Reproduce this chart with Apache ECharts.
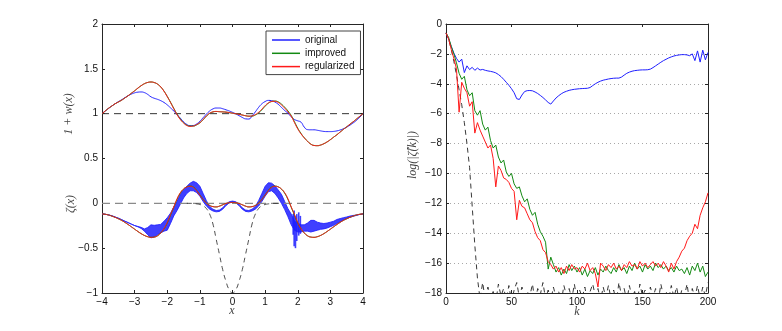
<!DOCTYPE html>
<html>
<head>
<meta charset="utf-8">
<script src="https://cdn.jsdelivr.net/npm/echarts@6.0.0/dist/echarts.min.js"></script>
<style>
html, body { margin: 0; padding: 0; background: #fff; }
#main { width: 782px; height: 331px; }
</style>
</head>
<body>
<div id="main"></div>
<script>
// left panel: sample positions
var xs = [-4,-3.9,-3.8,-3.7,-3.6,-3.5,-3.4,-3.3,-3.2,-3.1,
  -3,-2.9,-2.8,-2.7,-2.6,-2.5,-2.4,-2.3,-2.2,-2.1,
  -2,-1.9,-1.8,-1.7,-1.6,-1.5,-1.4,-1.3,-1.2,-1.1,
  -1,-0.9,-0.8,-0.7,-0.6,-0.5,-0.4,-0.3,-0.2,-0.1,
  0,0.1,0.2,0.3,0.4,0.5,0.6,0.7,0.8,0.9,
  1,1.1,1.2,1.3,1.4,1.5,1.6,1.7,1.8,1.9,
  2,2.1,2.2,2.3,2.4,2.5,2.6,2.7,2.8,2.9,
  3,3.1,3.2,3.3,3.4,3.5,3.6,3.7,3.8,3.9,
  4];

// 1 + w(x)
var wOriginal = [1.000,1.030,1.058,1.085,1.110,1.133,1.155,1.178,1.200,1.218,
  1.232,1.240,1.242,1.235,1.215,1.188,1.172,1.160,1.145,1.125,
  1.098,1.065,1.030,0.990,0.950,0.910,0.880,0.866,0.868,0.885,
  0.915,0.955,0.995,1.030,1.053,1.063,1.063,1.055,1.043,1.030,
  1.015,0.998,0.978,0.958,0.942,0.940,0.975,1.020,1.070,1.110,
  1.135,1.148,1.145,1.130,1.105,1.070,1.035,1.005,0.965,0.935,
  0.920,0.905,0.850,0.822,0.820,0.820,0.815,0.808,0.802,0.800,
  0.800,0.802,0.808,0.818,0.832,0.850,0.872,0.897,0.925,0.960,
  1.000];
var wImproved = [1.000,1.030,1.060,1.085,1.110,1.130,1.150,1.175,1.200,1.228,
  1.255,1.285,1.312,1.334,1.348,1.353,1.347,1.330,1.298,1.252,
  1.193,1.128,1.060,0.995,0.940,0.900,0.872,0.862,0.862,0.875,
  0.898,0.932,0.972,1.003,1.019,1.024,1.022,1.020,1.017,1.012,
  1.005,1.000,0.993,0.985,0.977,0.972,0.973,0.985,1.008,1.043,
  1.083,1.117,1.136,1.141,1.132,1.107,1.072,1.030,0.980,0.910,
  0.838,0.780,0.732,0.692,0.661,0.646,0.643,0.650,0.665,0.685,
  0.710,0.738,0.765,0.795,0.825,0.853,0.882,0.910,0.940,0.970,
  1.000];
var wRegularized = [1.000,1.030,1.060,1.085,1.110,1.130,1.150,1.175,1.200,1.228,
  1.255,1.285,1.312,1.334,1.348,1.353,1.347,1.330,1.298,1.250,
  1.190,1.125,1.055,0.990,0.935,0.895,0.868,0.858,0.862,0.878,
  0.900,0.935,0.975,1.005,1.020,1.025,1.022,1.020,1.017,1.012,
  1.005,1.000,0.993,0.985,0.977,0.972,0.975,0.990,1.015,1.050,
  1.090,1.120,1.135,1.138,1.125,1.098,1.062,1.020,0.972,0.900,
  0.830,0.775,0.730,0.692,0.660,0.645,0.643,0.650,0.665,0.685,
  0.710,0.738,0.765,0.795,0.825,0.853,0.882,0.910,0.940,0.970,
  1.000];

// zeta(x)
var zetaInitial = [0,0,0,0,0,0,0,0,0,0,
  0,0,0,0,0,0,0,0,0,0,
  0,0,0,0,0,0,0,0,-0.002,-0.006,
  -0.013,-0.028,-0.058,-0.12,-0.23,-0.40,-0.57,-0.74,-0.87,-0.965,
  -1.0,-0.965,-0.87,-0.74,-0.57,-0.40,-0.23,-0.12,-0.058,-0.028,
  -0.013,-0.006,-0.002,0,0,0,0,0,0,0,
  0,0,0,0,0,0,0,0,0,0,
  0,0,0,0,0,0,0,0,0,0,
  0];
var zetaOriginalLo = [-0.118,-0.122,-0.129,-0.139,-0.152,-0.166,-0.182,-0.199,-0.215,-0.232,
  -0.248,-0.262,-0.280,-0.310,-0.350,-0.385,-0.375,-0.350,-0.330,-0.310,
  -0.300,-0.225,-0.140,-0.080,-0.010,0.060,0.110,0.140,0.140,0.120,
  0.080,0.020,-0.030,-0.065,-0.085,-0.095,-0.090,-0.065,-0.025,0.005,
  0.012,0.005,-0.025,-0.065,-0.090,-0.095,-0.085,-0.065,-0.030,0.020,
  0.080,0.130,0.140,0.110,0.060,0.000,-0.070,-0.150,-0.240,-0.300,
  -0.320,-0.320,-0.310,-0.310,-0.320,-0.310,-0.300,-0.290,-0.285,-0.275,
  -0.260,-0.245,-0.225,-0.205,-0.185,-0.170,-0.155,-0.145,-0.134,-0.124,
  -0.118];
var zetaOriginalHi = [-0.118,-0.122,-0.129,-0.139,-0.152,-0.166,-0.182,-0.199,-0.215,-0.232,
  -0.248,-0.258,-0.268,-0.285,-0.270,-0.240,-0.245,-0.240,-0.235,-0.200,
  -0.160,-0.110,-0.040,0.020,0.100,0.150,0.190,0.225,0.245,0.230,
  0.190,0.110,0.030,-0.035,-0.065,-0.080,-0.075,-0.050,-0.010,0.018,
  0.025,0.018,-0.010,-0.050,-0.075,-0.080,-0.065,-0.035,0.030,0.110,
  0.190,0.230,0.225,0.195,0.150,0.100,0.020,-0.060,-0.120,-0.200,
  -0.220,-0.240,-0.240,-0.220,-0.190,-0.190,-0.210,-0.220,-0.225,-0.220,
  -0.210,-0.200,-0.180,-0.170,-0.160,-0.152,-0.142,-0.135,-0.130,-0.124,
  -0.118];
// vertical spikes of the original zeta near x = 2
var spikeXs = [1.86, 1.89, 1.93, 1.97, 2.03, 2.08];
var spikeLo = [-0.35, -0.48, -0.50, -0.42, -0.36, -0.34];
var spikeHi = [-0.12, -0.08, -0.15, -0.12, -0.10, -0.14];

var zetaImproved = [-0.118,-0.122,-0.130,-0.142,-0.156,-0.172,-0.190,-0.212,-0.236,-0.262,
  -0.288,-0.314,-0.338,-0.358,-0.372,-0.379,-0.376,-0.362,-0.330,-0.285,
  -0.220,-0.132,-0.045,0.042,0.112,0.158,0.184,0.192,0.182,0.145,
  0.094,0.045,0.004,-0.023,-0.036,-0.040,-0.031,-0.016,-0.002,0.007,
  0.010,0.007,-0.002,-0.016,-0.031,-0.040,-0.036,-0.023,0.004,0.045,
  0.094,0.145,0.182,0.192,0.184,0.158,0.112,0.042,-0.045,-0.132,
  -0.220,-0.285,-0.330,-0.362,-0.376,-0.379,-0.372,-0.358,-0.338,-0.314,
  -0.288,-0.262,-0.236,-0.212,-0.190,-0.172,-0.156,-0.142,-0.130,-0.122,
  -0.118];
var zetaRegularized = [-0.118,-0.122,-0.130,-0.142,-0.156,-0.172,-0.190,-0.212,-0.236,-0.262,
  -0.288,-0.314,-0.338,-0.358,-0.372,-0.379,-0.376,-0.362,-0.330,-0.283,
  -0.215,-0.125,-0.040,0.050,0.118,0.160,0.183,0.190,0.178,0.140,
  0.090,0.042,0.002,-0.024,-0.037,-0.040,-0.031,-0.016,-0.002,0.007,
  0.010,0.007,-0.002,-0.016,-0.031,-0.040,-0.037,-0.024,0.002,0.042,
  0.090,0.140,0.178,0.190,0.183,0.160,0.118,0.050,-0.040,-0.125,
  -0.215,-0.283,-0.330,-0.362,-0.376,-0.379,-0.372,-0.358,-0.338,-0.314,
  -0.288,-0.262,-0.236,-0.212,-0.190,-0.172,-0.156,-0.142,-0.130,-0.122,
  -0.118];
var refXs = [-4, 4];
var refOne = [1, 1];
var refZero = [0, 0];

// right panel: wavenumbers and log|zeta_hat(k)|
var ks = [0,2,4,6,8,10,12,14,16,18,
  20,22,24,26,28,30,32,34,36,38,
  40,42,44,46,48,50,52,54,56,58,
  60,62,64,66,68,70,72,74,76,78,
  80,82,84,86,88,90,92,94,96,98,
  100,102,104,106,108,110,112,114,116,118,
  120,122,124,126,128,130,132,134,136,138,
  140,142,144,146,148,150,152,154,156,158,
  160,162,164,166,168,170,172,174,176,178,
  180,182,184,186,188,190,192,194,196,198,
  200];
var logOriginal = [-0.6,-1.0,-1.5,-1.95,-2.3,-2.55,-2.35,-3.25,-2.8,-3.05,
  -2.9,-3.1,-2.95,-3.08,-3.04,-3.1,-3.14,-3.17,-3.21,-3.27,
  -3.38,-3.52,-3.7,-3.9,-4.1,-4.33,-4.6,-5.0,-5.05,-4.75,
  -4.52,-4.46,-4.45,-4.47,-4.55,-4.65,-4.78,-4.92,-5.08,-5.25,
  -5.36,-5.15,-4.95,-4.8,-4.67,-4.57,-4.5,-4.44,-4.4,-4.37,
  -4.35,-4.33,-4.32,-4.31,-4.3,-4.25,-4.12,-4.0,-3.9,-3.82,
  -3.76,-3.72,-3.68,-3.65,-3.63,-3.62,-3.62,-3.55,-3.42,-3.3,
  -3.22,-3.16,-3.12,-3.1,-3.08,-3.07,-3.07,-3.06,-3.02,-2.92,
  -2.8,-2.68,-2.56,-2.45,-2.36,-2.27,-2.2,-2.14,-2.1,-2.07,
  -2.05,-2.05,-2.07,-2.12,-2.0,-2.45,-1.8,-2.55,-1.75,-2.4,
  -1.9];
var logImproved = [-0.6,-0.9,-1.5,-2.0,-2.6,-3.3,-3.7,-3.5,-4.4,-4.8,
  -4.6,-5.8,-6.1,-5.8,-6.7,-7.1,-6.9,-7.8,-8.3,-8.1,
  -8.9,-9.3,-9.1,-9.9,-10.2,-10.0,-10.7,-11.0,-10.9,-11.5,
  -11.9,-11.7,-12.4,-12.8,-12.6,-13.4,-13.9,-14.2,-14.6,-16.4,
  -15.6,-16.1,-16.6,-16.3,-16.8,-16.4,-16.7,-16.1,-16.5,-16.2,
  -16.6,-16.3,-16.8,-16.4,-16.9,-16.5,-16.7,-16.3,-16.8,-16.4,
  -16.6,-16.2,-16.5,-16.7,-16.3,-16.6,-16.1,-16.5,-16.3,-16.7,
  -16.2,-16.5,-16.0,-16.4,-16.2,-16.6,-16.1,-16.4,-16.2,-16.5,
  -16.0,-16.3,-16.1,-16.4,-16.2,-16.5,-16.3,-16.6,-16.2,-16.5,
  -16.4,-16.7,-16.3,-16.8,-16.2,-16.5,-16.0,-16.6,-16.2,-16.9,
  -16.6];
var logRegularized = [-0.6,-1.0,-1.7,-2.3,-3.0,-5.9,-3.9,-4.3,-4.6,-5.5,
  -5.2,-7.3,-6.6,-7.1,-7.5,-7.9,-8.3,-8.1,-9.0,-10.9,
  -9.5,-9.8,-10.3,-10.4,-10.6,-11.0,-11.2,-13.1,-11.8,-12.2,
  -12.3,-12.7,-13.1,-13.3,-13.9,-14.3,-14.5,-15.1,-15.3,-15.9,
  -16.1,-16.4,-16.2,-16.6,-16.3,-16.7,-16.2,-16.5,-16.1,-16.4,
  -16.3,-16.6,-16.2,-16.4,-16.0,-16.5,-16.3,-16.7,-17.6,-16.0,
  -16.2,-16.5,-16.1,-16.3,-16.0,-16.4,-16.2,-16.5,-16.1,-16.3,
  -15.9,-16.2,-16.1,-16.4,-15.9,-16.2,-16.0,-16.3,-16.1,-15.9,
  -16.2,-16.0,-16.3,-15.9,-16.2,-16.6,-16.0,-16.4,-15.9,-15.6,
  -15.2,-15.0,-14.5,-14.2,-14.0,-13.4,-13.7,-12.8,-12.3,-11.9,
  -11.3];
var logInitial = [-0.6,-1.0,-1.7,-2.5,-3.4,-4.4,-5.4,-6.6,-8.0,-9.6,
  -12.2,-14.8,-17.0,-18.4,-17.3,-18.5,-17.6,-18.3,-17.9,-18.6,
  -17.4,-18.2,-17.7,-18.4,-17.5,-18.6,-17.8,-17.3,-18.3,-17.6,
  -18.5,-17.9,-18.2,-17.4,-18.6,-17.7,-18.1,-17.3,-18.4,-17.8,
  -18.5,-17.6,-18.3,-17.9,-18.6,-17.5,-18.2,-17.7,-18.4,-17.4,
  -18.5,-17.8,-18.3,-17.6,-18.6,-17.9,-17.4,-18.2,-17.7,-18.5,
  -17.6,-18.3,-17.5,-18.4,-17.8,-18.6,-17.3,-18.2,-17.7,-18.5,
  -17.5,-18.3,-17.9,-18.6,-17.4,-18.2,-17.8,-18.5,-17.6,-18.3,
  -17.7,-18.6,-17.4,-18.2,-17.9,-18.4,-17.5,-18.3,-17.6,-18.5,
  -17.8,-18.2,-17.4,-18.6,-17.7,-18.3,-17.5,-18.4,-17.6,-18.2,
  -17.3];

var BLUE = '#1f1fff', GREEN = '#138a13', RED = '#ff1a1a';
var AX = '#262626';
var TICK_FONT = 'Liberation Sans';
var LABEL_FONT = 'italic 12px "Liberation Serif"';

function minus(v) { return String(v).replace('-', '\u2212'); }
function pairs(x, y) {
  var out = [];
  for (var i = 0; i < x.length; i++) out.push([x[i], y[i]]);
  return out;
}
// keep only the part of the initial profile that leaves the zero line
function nearCentre(x, y) {
  var out = [];
  for (var i = 0; i < x.length; i++) if (Math.abs(x[i]) <= 1.4) out.push([x[i], y[i]]);
  return out;
}

function axis(grid, pos, min, max, step, labels) {
  return {
    gridIndex: grid, type: 'value', position: pos,
    min: min, max: max, interval: step,
    axisLine: { show: true, onZero: false, lineStyle: { color: AX, width: 1 } },
    axisTick: { show: true, inside: true, length: 3, lineStyle: { color: AX } },
    axisLabel: { show: labels, color: '#111', fontSize: 10, fontFamily: TICK_FONT, margin: 4, formatter: minus },
    splitLine: { show: false }
  };
}

function line(name, x, y, color, xi, yi, extra) {
  var s = {
    name: name, type: 'line', xAxisIndex: xi, yAxisIndex: yi,
    data: pairs(x, y), showSymbol: false, symbol: 'none',
    color: color, lineStyle: { color: color, width: 1 },
    emphasis: { disabled: true }, silent: true
  };
  for (var k in extra) s[k] = extra[k];
  return s;
}

var chart = echarts.init(document.getElementById('main'));

var rightY = axis(1, 'left', -18, 0, 2, true);
rightY.splitLine = { show: true, lineStyle: { color: '#a8a8a8', type: [1, 3], width: 1 } };

var option = {
  animation: false,
  backgroundColor: '#fff',
  grid: [
    { left: 102, top: 24, width: 261, height: 269 },
    { left: 446, top: 24, width: 262, height: 269 }
  ],
  xAxis: [
    axis(0, 'bottom', -4, 4, 1, true),
    axis(0, 'top', -4, 4, 1, false),
    axis(1, 'bottom', 0, 200, 50, true),
    axis(1, 'top', 0, 200, 50, false)
  ],
  yAxis: [
    axis(0, 'left', -1, 2, 0.5, true),
    axis(0, 'right', -1, 2, 0.5, false),
    rightY,
    axis(1, 'right', -18, 0, 2, false)
  ],
  legend: {
    data: ['original', 'improved', 'regularized'],
    orient: 'vertical', left: 266, top: 31,
    padding: [3, 6, 2, 6], itemGap: 1.3,
    itemWidth: 28, itemHeight: 1.5, icon: 'rect',
    borderColor: '#444', borderWidth: 1, borderRadius: 0, backgroundColor: '#fff',
    selectedMode: false,
    textStyle: { fontSize: 10, fontFamily: TICK_FONT, color: '#111', lineHeight: 12 }
  },
  graphic: [
    { type: 'text', x: 69, y: 114, rotation: Math.PI / 2,
      style: { text: '1 + w(x)', font: LABEL_FONT, fill: '#444', align: 'center', verticalAlign: 'middle' } },
    { type: 'text', x: 71, y: 204, rotation: Math.PI / 2,
      style: { text: '\u03b6(x)', font: LABEL_FONT, fill: '#444', align: 'center', verticalAlign: 'middle' } },
    { type: 'text', x: 232, y: 311,
      style: { text: 'x', font: LABEL_FONT, fill: '#444', align: 'center', verticalAlign: 'middle' } },
    { type: 'text', x: 413, y: 155, rotation: Math.PI / 2,
      style: { text: 'log(|\u03b6\u0302(k)|)', font: LABEL_FONT, fill: '#444', align: 'center', verticalAlign: 'middle' } },
    { type: 'text', x: 577, y: 312,
      style: { text: 'k', font: LABEL_FONT, fill: '#444', align: 'center', verticalAlign: 'middle' } }
  ],
  series: [
    // left panel
    line('ref one', refXs, refOne, '#333', 0, 0, { lineStyle: { color: '#333', width: 1, type: [7, 5] } }),
    line('ref zero', refXs, refZero, '#8a8a8a', 0, 0, { lineStyle: { color: '#8a8a8a', width: 1.4, type: [8, 5] } }),
    {
      name: 'initial zeta', type: 'line', xAxisIndex: 0, yAxisIndex: 0,
      data: nearCentre(xs, zetaInitial), showSymbol: false, symbol: 'none', smooth: true,
      lineStyle: { color: '#222', width: 0.8, type: [5, 4] }, silent: true
    },
    {
      name: 'original zeta', type: 'custom', xAxisIndex: 0, yAxisIndex: 0,
      data: [[0, 0]], silent: true, clip: true,
      renderItem: function (params, api) {
        var pts = [], i, kids = [];
        for (i = 0; i < xs.length; i++) pts.push(api.coord([xs[i], zetaOriginalHi[i]]));
        for (i = xs.length - 1; i >= 0; i--) pts.push(api.coord([xs[i], zetaOriginalLo[i]]));
        kids.push({ type: 'polygon', shape: { points: pts },
          style: { fill: BLUE, stroke: BLUE, lineWidth: 1, opacity: 0.85 } });
        for (i = 0; i < spikeXs.length; i++) {
          var a = api.coord([spikeXs[i], spikeHi[i]]), b = api.coord([spikeXs[i], spikeLo[i]]);
          kids.push({ type: 'line', shape: { x1: a[0], y1: a[1], x2: b[0], y2: b[1] },
            style: { stroke: BLUE, lineWidth: 1.6, opacity: 0.85 } });
        }
        return { type: 'group', children: kids };
      }
    },
    line('original', xs, wOriginal, BLUE, 0, 0, { smooth: true }),
    line('improved', xs, wImproved, GREEN, 0, 0, { smooth: true }),
    line('improved zeta', xs, zetaImproved, GREEN, 0, 0, { smooth: true }),
    line('regularized', xs, wRegularized, RED, 0, 0, { smooth: true }),
    line('regularized zeta', xs, zetaRegularized, RED, 0, 0, { smooth: true }),
    // right panel
    line('initial spec', ks, logInitial, '#222', 2, 2, { lineStyle: { color: '#222', width: 0.9, type: [5, 4] } }),
    line('original spec', ks, logOriginal, BLUE, 2, 2, {}),
    line('improved spec', ks, logImproved, GREEN, 2, 2, {}),
    line('regularized spec', ks, logRegularized, RED, 2, 2, {})
  ]
};

chart.setOption(option);
</script>
</body>
</html>
